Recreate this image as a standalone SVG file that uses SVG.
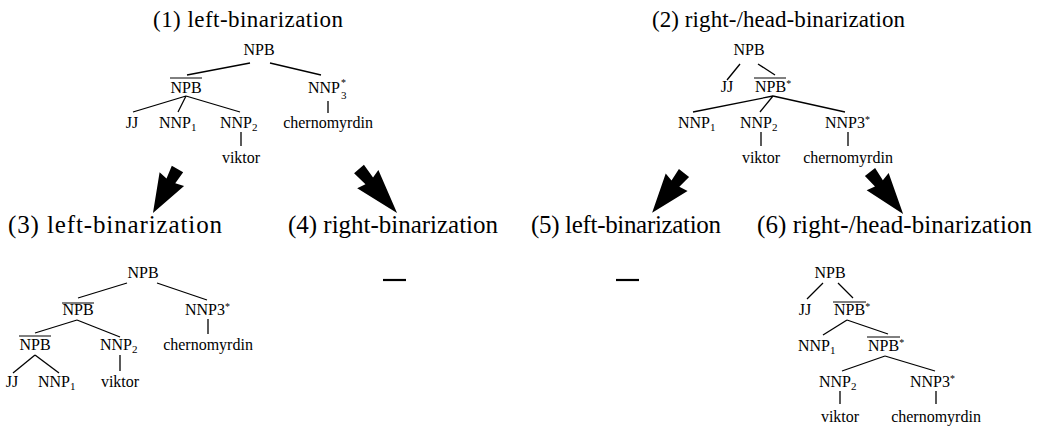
<svg xmlns="http://www.w3.org/2000/svg" width="1041" height="431" viewBox="0 0 1041 431">
<style>
text{font-family:"Liberation Serif","Times New Roman",serif;fill:#000}
.lbl{font-size:16px}
.m{text-anchor:middle}
.sub{font-size:11px}
.sup{font-size:10px}
.title{font-size:23px}
.title2{font-size:25px}
.edge line{stroke:#000;stroke-width:1.3}
.bar{stroke:#000;stroke-width:1}
.arrow{fill:#000}
.dash{stroke:#000;stroke-width:2.2}
</style>
<defs>
<path id="fat" d="M0,-6.5 L0,6.5 L14,5 L12,14 L52,0 L12,-14 L14,-5 Z"/>
</defs>
<rect width="1041" height="431" fill="#fff"/>

<g id="titles">
<text class="title" x="153" y="27" textLength="190">(1) left-binarization</text>
<text class="title" x="652" y="27" textLength="253">(2) right-/head-binarization</text>
<text class="title2" x="8" y="233" textLength="214">(3) left-binarization</text>
<text class="title2" x="288" y="233" textLength="210">(4) right-binarization</text>
<text class="title2" x="531" y="233" textLength="190">(5) left-binarization</text>
<text class="title2" x="757" y="233" textLength="275">(6) right-/head-binarization</text>
</g>

<g id="connectors">
<g class="edge">
<line x1="250" y1="63" x2="187" y2="75"/>
<line x1="270" y1="63" x2="321" y2="75"/>
<line x1="186" y1="96" x2="133" y2="112"/>
<line x1="186" y1="96" x2="178" y2="112"/>
<line x1="186" y1="96" x2="240" y2="112"/>
<line x1="241" y1="132" x2="241" y2="146"/>
<line x1="328" y1="101" x2="328" y2="113"/>

<line x1="740" y1="64" x2="727" y2="80"/>
<line x1="758" y1="64" x2="775" y2="75"/>
<line x1="773" y1="96" x2="693" y2="112"/>
<line x1="773" y1="96" x2="760" y2="112"/>
<line x1="773" y1="96" x2="845" y2="112"/>
<line x1="761" y1="132" x2="761" y2="146"/>
<line x1="848" y1="132" x2="848" y2="146"/>

<line x1="127" y1="283" x2="78" y2="298"/>
<line x1="157" y1="283" x2="207" y2="300"/>
<line x1="77" y1="320" x2="35" y2="333"/>
<line x1="77" y1="320" x2="120" y2="337"/>
<line x1="208" y1="319" x2="208" y2="334"/>
<line x1="35" y1="355" x2="13" y2="373"/>
<line x1="35" y1="355" x2="59" y2="373"/>
<line x1="120" y1="355" x2="120" y2="371"/>

<line x1="823" y1="283" x2="807" y2="299"/>
<line x1="838" y1="283" x2="853" y2="298"/>
<line x1="847" y1="320" x2="823" y2="335"/>
<line x1="847" y1="320" x2="888" y2="334"/>
<line x1="885" y1="356" x2="842" y2="371"/>
<line x1="885" y1="356" x2="935" y2="371"/>
<line x1="840" y1="391" x2="840" y2="404"/>
<line x1="936" y1="391" x2="936" y2="404"/>
</g>
<g class="arrow">
<use href="#fat" transform="translate(177.5,169) rotate(119.1) scale(0.97,1)"/>
<use href="#fat" transform="translate(359,169) rotate(49.2) scale(1.12,1)"/>
<use href="#fat" transform="translate(684,173) rotate(128.7) scale(0.98,1)"/>
<use href="#fat" transform="translate(870,172) rotate(51.8) scale(1.03,1)"/>
</g>
</g>

<g id="tree1">
<g id="t1-npb"><text class="lbl m" x="259" y="55">NPB</text></g>
<g id="t1-npbbar"><text class="lbl m" x="186" y="93">NPB</text><line class="bar" x1="170" y1="78" x2="202" y2="78"/></g>
<g id="t1-nnp3"><text class="lbl" x="308" y="93">NNP</text><text class="sup" x="341" y="86">*</text><text class="sub" x="341" y="99">3</text></g>
<g id="t1-jj"><text class="lbl m" x="132" y="128">JJ</text></g>
<g id="t1-nnp1"><text class="lbl" x="159" y="128">NNP<tspan class="sub" dy="3">1</tspan></text></g>
<g id="t1-nnp2"><text class="lbl" x="220" y="128">NNP<tspan class="sub" dy="3">2</tspan></text></g>
<g id="t1-viktor"><text class="lbl m" x="241" y="163">viktor</text></g>
<g id="t1-chern"><text class="lbl m" x="328" y="128">chernomyrdin</text></g>
</g>

<g id="tree2">
<g id="t2-npb"><text class="lbl m" x="749" y="55">NPB</text></g>
<g id="t2-jj"><text class="lbl m" x="727" y="92">JJ</text></g>
<g id="t2-npbbar"><text class="lbl" x="755" y="92">NPB<tspan class="sup" dy="-5">*</tspan></text><line class="bar" x1="754" y1="78" x2="786" y2="78"/></g>
<g id="t2-nnp1"><text class="lbl" x="678" y="128">NNP<tspan class="sub" dy="3">1</tspan></text></g>
<g id="t2-nnp2"><text class="lbl" x="740" y="128">NNP<tspan class="sub" dy="3">2</tspan></text></g>
<g id="t2-nnp3"><text class="lbl" x="825" y="128">NNP3<tspan class="sup" dy="-5">*</tspan></text></g>
<g id="t2-viktor"><text class="lbl m" x="761" y="163">viktor</text></g>
<g id="t2-chern"><text class="lbl m" x="848" y="163">chernomyrdin</text></g>
</g>

<g id="tree3">
<g id="t3-npb"><text class="lbl m" x="143" y="278">NPB</text></g>
<g id="t3-npbbar"><text class="lbl m" x="78" y="315">NPB</text><line class="bar" x1="62" y1="303" x2="94" y2="303"/></g>
<g id="t3-nnp3"><text class="lbl" x="185" y="315">NNP3<tspan class="sup" dy="-5">*</tspan></text></g>
<g id="t3-npbbar2"><text class="lbl m" x="35" y="350">NPB</text><line class="bar" x1="19" y1="336" x2="51" y2="336"/></g>
<g id="t3-nnp2"><text class="lbl" x="100" y="350">NNP<tspan class="sub" dy="3">2</tspan></text></g>
<g id="t3-chern"><text class="lbl m" x="208" y="350">chernomyrdin</text></g>
<g id="t3-jj"><text class="lbl m" x="12" y="387">JJ</text></g>
<g id="t3-nnp1"><text class="lbl" x="38" y="387">NNP<tspan class="sub" dy="3">1</tspan></text></g>
<g id="t3-viktor"><text class="lbl m" x="120" y="387">viktor</text></g>
</g>

<g id="tree4">
<line class="dash" x1="383" y1="280" x2="406" y2="280"/>
</g>
<g id="tree5">
<line class="dash" x1="616" y1="280" x2="639" y2="280"/>
</g>

<g id="tree6">
<g id="t6-npb"><text class="lbl m" x="830" y="278">NPB</text></g>
<g id="t6-jj"><text class="lbl m" x="805" y="315">JJ</text></g>
<g id="t6-npbbar"><text class="lbl" x="834" y="315">NPB<tspan class="sup" dy="-5">*</tspan></text><line class="bar" x1="833" y1="302" x2="866" y2="302"/></g>
<g id="t6-nnp1"><text class="lbl" x="798" y="351">NNP<tspan class="sub" dy="3">1</tspan></text></g>
<g id="t6-npbbar2"><text class="lbl" x="868" y="351">NPB<tspan class="sup" dy="-5">*</tspan></text><line class="bar" x1="867" y1="337" x2="900" y2="337"/></g>
<g id="t6-nnp2"><text class="lbl" x="819" y="387">NNP<tspan class="sub" dy="3">2</tspan></text></g>
<g id="t6-nnp3"><text class="lbl" x="910" y="387">NNP3<tspan class="sup" dy="-5">*</tspan></text></g>
<g id="t6-viktor"><text class="lbl m" x="840" y="422">viktor</text></g>
<g id="t6-chern"><text class="lbl m" x="936" y="422">chernomyrdin</text></g>
</g>
</svg>
